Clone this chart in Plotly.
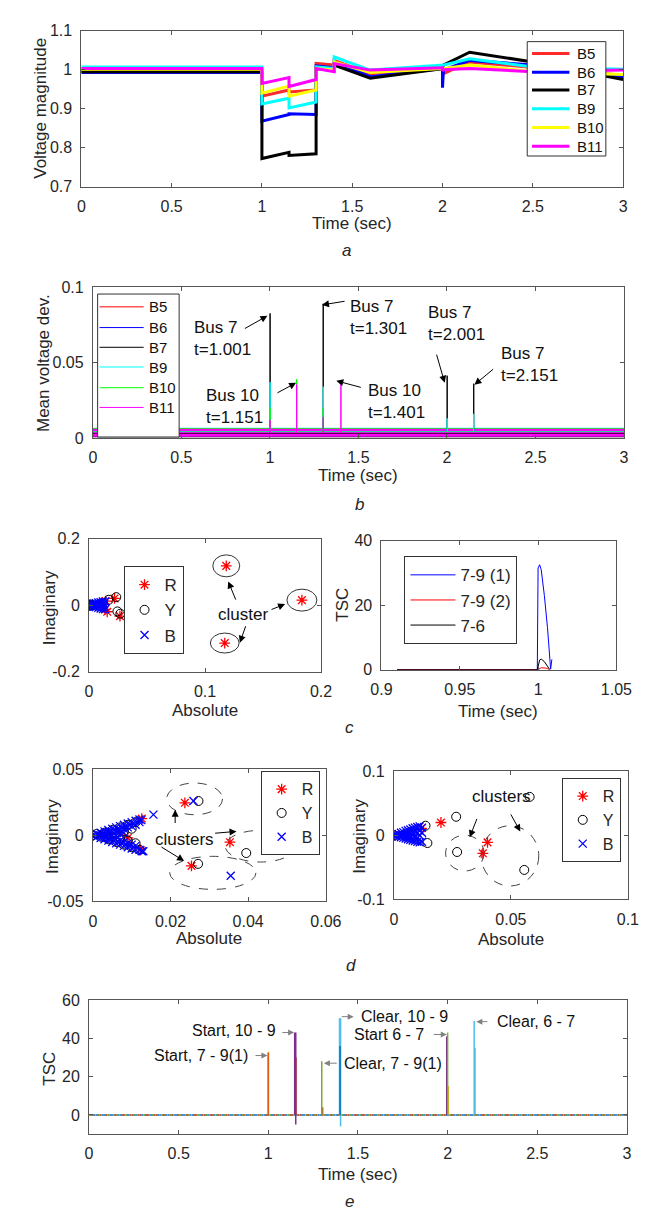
import plotly.graph_objects as go

W, H = 657, 1211
FONT = "Liberation Sans, Arial, Helvetica, sans-serif"

# ---------------- Panel a : voltage magnitude ----------------
a_time = [0, 1.0, 1.0, 1.15, 1.15, 1.3, 1.3, 1.4, 1.4, 1.6, 2.0, 2.0, 2.005, 2.15, 2.5, 3.0]
a_B5 = [1.000, 1.000, 0.932, 0.948, 0.943, 0.948, 1.016, 1.012, 1.024, 0.990, 1.003, 0.986, 0.990, 1.020, 1.006, 0.986]
a_B6 = [0.993, 0.993, 0.868, 0.885, 0.887, 0.885, 1.010, 1.005, 1.020, 0.982, 1.003, 0.954, 0.999, 1.024, 1.012, 0.982]
a_B7 = [0.995, 0.995, 0.772, 0.788, 0.780, 0.784, 1.003, 0.998, 1.012, 0.978, 1.003, 1.005, 1.012, 1.045, 1.020, 0.975]
a_B9 = [1.007, 1.007, 0.912, 0.927, 0.902, 0.917, 1.007, 1.003, 1.033, 0.999, 1.012, 1.010, 1.012, 1.028, 1.007, 1.001]
a_B10 = [1.001, 1.001, 0.940, 0.958, 0.932, 0.948, 1.003, 0.999, 1.020, 0.993, 1.003, 1.000, 1.003, 1.012, 0.995, 0.988]
a_B11 = [1.003, 1.003, 0.965, 0.980, 0.957, 0.975, 1.003, 0.995, 1.016, 0.999, 1.005, 0.997, 1.000, 1.003, 0.995, 0.999]
a_names = ["B5", "B6", "B7", "B9", "B10", "B11"]

# ---------------- Panel b : mean voltage deviation ----------------
b_names = ["B5", "B6", "B7", "B9", "B10", "B11"]
b_base = [0.0034, 0.0037, 0.0031, 0.0041, 0.0039, 0.0035]
b_B5_t, b_B5_v = [], []
b_B6_t, b_B6_v = [], []
b_B7_t, b_B7_v = [1.001, 1.301, 2.001, 2.151], [0.0826, 0.089, 0.0413, 0.036]
b_B9_t, b_B9_v = [1.001, 1.301, 2.001, 2.151], [0.037, 0.034, 0.013, 0.016]
b_B10_t, b_B10_v = [1.001, 1.151, 1.301], [0.020, 0.039, 0.020]
b_B11_t, b_B11_v = [1.001, 1.151, 1.301, 1.401], [0.012, 0.0354, 0.014, 0.036]
b_notes = ["Bus 7<br>t=1.001", "Bus 10<br>t=1.151", "Bus 7<br>t=1.301",
           "Bus 10<br>t=1.401", "Bus 7<br>t=2.001", "Bus 7<br>t=2.151"]

# ---------------- Panel c (left) : scatter ----------------
cl_R = [(0.1183, 0.118), (0.117, -0.114), (0.1835, 0.015), (0.0143, 0.012), (0.0157, -0.020),
        (0.0267, -0.033), (0.0138, -0.013), (0.022, 0.020), (0.0105, 0.004)]
cl_Y = [(0.000, 0.000), (0.001, 0.002), (0.001, -0.002), (0.002, 0.000), (0.017, 0.016),
        (0.0235, 0.024), (0.0245, -0.019), (0.027, -0.026)]
cl_B = [(0.000, 0.000), (0.002, 0.002), (0.002, -0.002), (0.003, 0.000), (0.004, 0.004), (0.004, -0.004),
        (0.005, 0.002), (0.005, -0.002), (0.006, 0.006), (0.006, -0.006), (0.007, 0.000), (0.007, 0.003),
        (0.007, -0.003), (0.008, 0.008), (0.008, -0.008), (0.009, 0.004), (0.009, -0.004), (0.010, 0.009),
        (0.010, -0.010), (0.010, 0.000), (0.011, 0.006), (0.011, -0.006), (0.012, 0.011), (0.012, -0.012),
        (0.013, 0.003), (0.013, -0.003), (0.014, 0.010), (0.014, -0.012)]
cl_ell = [(0.1183, 0.118, 0.0116, 0.033), (0.117, -0.114, 0.0124, 0.030), (0.1835, 0.015, 0.0129, 0.033)]

# ---------------- Panel c (right) : TSC ----------------
cr_names = ["7-9 (1)", "7-9 (2)", "7-6"]
cr_t1 = [0.91, 0.9995, 1.0, 1.001, 1.002, 1.004, 1.006, 1.0075, 1.008, 1.0088]
cr_v1 = [0, 0, 31.5, 32.5, 31, 23, 13, 3.5, 0.2, 3.2]
cr_t2 = [0.91, 1.0, 1.002, 1.005, 1.0075]
cr_v2 = [0, 0, 0.6, 0.5, 0]
cr_t3 = [0.91, 0.9995, 1.001, 1.002, 1.004, 1.006, 1.0075]
cr_v3 = [0, 0, 3.0, 3.3, 2.5, 1.2, 0]

# ---------------- Panel d (left) ----------------
dl_R = [(0.0237, 0.0246), (0.0126, 0.0127), (0.0353, -0.0052), (0.0254, -0.0231), (0.0123, -0.011),
        (0.009, -0.002), (0.003, 0.0)]
dl_Y = [(0.000, 0.000), (0.001, 0.001), (0.002, -0.001), (0.003, 0.002), (0.004, -0.003), (0.005, 0.004),
        (0.006, -0.005), (0.007, 0.006), (0.008, -0.007), (0.009, 0.008), (0.010, -0.009), (0.011, 0.010),
        (0.012, -0.011), (0.006, 0.001), (0.008, 0.003), (0.010, 0.005), (0.009, -0.004), (0.004, 0.001),
        (0.007, -0.002), (0.011, -0.006), (0.003, -0.001), (0.005, -0.001),
        (0.0272, 0.026), (0.0395, -0.0134), (0.0271, -0.0216)]
dl_B = [(0.000, 0.000), (0.001, 0.001), (0.001, -0.001), (0.002, 0.002), (0.002, -0.002), (0.002, 0.000),
        (0.003, 0.003), (0.003, -0.003), (0.003, 0.001), (0.003, -0.001), (0.004, 0.004), (0.004, -0.004),
        (0.004, 0.002), (0.004, -0.002), (0.004, 0.000), (0.005, 0.005), (0.005, -0.005), (0.005, 0.0025),
        (0.005, -0.0025), (0.005, 0.000), (0.006, 0.006), (0.006, -0.006), (0.006, 0.003), (0.006, -0.003),
        (0.006, 0.000), (0.007, 0.007), (0.007, -0.007), (0.007, 0.004), (0.007, -0.004), (0.007, 0.001),
        (0.008, 0.008), (0.008, -0.008), (0.008, 0.005), (0.008, -0.005), (0.008, 0.002), (0.009, 0.009),
        (0.009, -0.009), (0.009, 0.006), (0.009, -0.006), (0.010, 0.010), (0.010, -0.010), (0.010, 0.007),
        (0.010, -0.007), (0.011, 0.011), (0.011, -0.011), (0.011, 0.008), (0.011, -0.008), (0.012, 0.012),
        (0.012, -0.011), (0.0125, 0.0115), (0.013, -0.012),
        (0.0259, 0.026), (0.0156, 0.0157), (0.0447, -0.0089), (0.0355, -0.0306), (0.0126, -0.012), (0.012, 0.010)]
dl_ell = [(0.0262, 0.0276, 0.0072, 0.012), (0.0432, -0.0082, 0.0091, 0.012), (0.0309, -0.0284, 0.0111, 0.0125)]

# ---------------- Panel d (right) ----------------
dr_R = [(0.0201, 0.020), (0.040, -0.011), (0.038, -0.028), (0.0118, 0.011), (0.0005, 0.0)]
dr_Y = [(0.0266, 0.029), (0.058, 0.060), (0.027, -0.026), (0.0557, -0.054), (0.0135, 0.015),
        (0.0143, -0.012), (0.000, 0.000)]
dr_B = [(0.000, 0.000), (0.001, 0.001), (0.001, -0.001), (0.002, 0.002), (0.002, -0.002), (0.003, 0.004),
        (0.003, -0.003), (0.003, 0.000), (0.004, 0.005), (0.004, -0.004), (0.004, 0.001), (0.005, 0.007),
        (0.005, -0.005), (0.005, 0.002), (0.005, -0.001), (0.006, 0.008), (0.006, -0.006), (0.006, 0.003),
        (0.006, -0.002), (0.007, 0.009), (0.007, -0.007), (0.007, 0.004), (0.007, -0.002), (0.008, 0.011),
        (0.008, -0.008), (0.008, 0.005), (0.008, 0.000), (0.009, 0.012), (0.009, -0.009), (0.009, 0.006),
        (0.009, -0.003), (0.010, 0.013), (0.010, -0.010), (0.010, 0.004), (0.010, -0.004), (0.011, 0.014),
        (0.011, -0.011), (0.011, 0.007), (0.011, 0.000), (0.012, 0.012), (0.012, -0.010), (0.012, 0.004)]
dr_ell = [(0.0303, -0.0277, 0.0082, 0.028), (0.0496, -0.032, 0.0123, 0.047)]

# ---------------- Panel e : TSC ----------------
e_yellow_t, e_yellow_lo, e_yellow_hi = [1.0015, 2.004], [0, 0], [33, 15]
e_orange_t, e_orange_lo, e_orange_hi = [0.999, 1.155, 1.303], [0, 0, 0], [32.5, 30, 4]
e_purple_t, e_purple_lo, e_purple_hi = [1.147, 1.153, 1.995], [0, -5, 0], [43, 43, 41]
e_green_t, e_green_lo, e_green_hi = [1.298, 2.0, 2.152], [0, 0, 0], [28, 43, 35]
e_lblue_t, e_lblue_lo, e_lblue_hi = [1.397, 1.403, 2.148], [0, -6, 0], [50.5, 50.5, 49]
e_blue_t, e_blue_lo, e_blue_hi = [1.400], [0], [36]
e_base_t, e_base_v = [0, 3], [0, 0]
e_notes = ["Start, 7 - 9(1)", "Start, 10 - 9", "Clear, 7 - 9(1)", "Clear, 10 - 9", "Start 6 - 7", "Clear, 6 - 7"]

# tick labels
t_time = [0, 0.5, 1, 1.5, 2, 2.5, 3]
t_time_txt = ["0", "0.5", "1", "1.5", "2", "2.5", "3"]

# ======================================================================
def X(p):
    return p / W


def Y(p):
    return 1 - p / H


fig = go.Figure()

AX = dict(showline=True, mirror="ticks", linecolor="#555555", linewidth=1, ticks="inside",
          ticklen=4, tickcolor="#555555", showgrid=False, zeroline=False,
          tickfont=dict(size=16, color="#262626", family=FONT))

panels = {
    1: dict(x=(65, 630), y=(15, 173), xr=[0, 3], yr=[0.7, 1.1],
            xt=t_time, xtt=t_time_txt, yt=[0.7, 0.8, 0.9, 1.0, 1.1], ytt=["0.7", "0.8", "0.9", "1", "1.1"]),
    2: dict(x=(77, 631), y=(275, 428), xr=[0, 3], yr=[0, 0.1],
            xt=t_time, xtt=t_time_txt, yt=[0, 0.05, 0.1], ytt=["0", "0.05", "0.1"]),
    3: dict(x=(73, 315), y=(530, 665), xr=[0, 0.2], yr=[-0.2, 0.2],
            xt=[0, 0.1, 0.2], xtt=["0", "0.1", "0.2"], yt=[-0.2, 0, 0.2], ytt=["-0.2", "0", "0.2"]),
    4: dict(x=(378, 623), y=(532, 663), xr=[0.9, 1.05], yr=[0, 40],
            xt=[0.9, 0.95, 1.0, 1.05], xtt=["0.9", "0.95", "1", "1.05"], yt=[0, 20, 40], ytt=["0", "20", "40"]),
    5: dict(x=(77, 320), y=(764, 898), xr=[0, 0.06], yr=[-0.05, 0.05],
            xt=[0, 0.02, 0.04, 0.06], xtt=["0", "0.02", "0.04", "0.06"], yt=[-0.05, 0, 0.05],
            ytt=["-0.05", "0", "0.05"]),
    6: dict(x=(391, 635), y=(766, 896), xr=[0, 0.1], yr=[-0.1, 0.1],
            xt=[0, 0.05, 0.1], xtt=["0", "0.05", "0.1"], yt=[-0.1, 0, 0.1], ytt=["-0.1", "0", "0.1"]),
    7: dict(x=(73, 634), y=(998, 1134), xr=[0, 3], yr=[-10, 60],
            xt=t_time, xtt=t_time_txt, yt=[0, 20, 40, 60], ytt=["0", "20", "40", "60"]),
}

layout_axes = {}
for n, p in panels.items():
    s = "" if n == 1 else str(n)
    layout_axes["xaxis" + s] = dict(AX, domain=[X(p["x"][0]), X(p["x"][1])], range=p["xr"],
                                    anchor="y" + s, tickvals=p["xt"], ticktext=p["xtt"],
                                    ticklabelstandoff=5)
    layout_axes["yaxis" + s] = dict(AX, domain=[Y(p["y"][1]), Y(p["y"][0])], range=p["yr"],
                                    anchor="x" + s, tickvals=p["yt"], ticktext=p["ytt"],
                                    ticklabelstandoff=5)

# ---- panel a traces
a_colors = ["#ff2a2a", "#0000ff", "#000000", "#00ffff", "#ffff00", "#ff00ff"]
for name, vals, col in zip(a_names, [a_B5, a_B6, a_B7, a_B9, a_B10, a_B11], a_colors):
    fig.add_trace(go.Scatter(x=a_time, y=vals, mode="lines", name=name, showlegend=False,
                             line=dict(color=col, width=3), xaxis="x", yaxis="y"))

# ---- panel b traces
b_colors = ["#ff0000", "#0000ff", "#000000", "#00ffff", "#00ff00", "#ff00ff"]
for lvl, col in zip(b_base, b_colors):
    fig.add_trace(go.Scatter(x=[0, 3], y=[lvl, lvl], mode="lines", showlegend=False,
                             line=dict(color=col, width=8), xaxis="x2", yaxis="y2"))
b_spk = [(b_B5_t, b_B5_v), (b_B6_t, b_B6_v), (b_B7_t, b_B7_v),
         (b_B9_t, b_B9_v), (b_B10_t, b_B10_v), (b_B11_t, b_B11_v)]
for name, (ts, vs), lvl, col in zip(b_names, b_spk, b_base, b_colors):
    xs, ys = [0], [lvl]
    for t, v in zip(ts, vs):
        xs += [t, t, t]
        ys += [lvl, v, lvl]
    xs.append(3)
    ys.append(lvl)
    fig.add_trace(go.Scatter(x=xs, y=ys, mode="lines", name=name, showlegend=False,
                             line=dict(color=col, width=1), xaxis="x2", yaxis="y2"))

# ---- scatter helpers
MK = {
    "R": dict(symbol="asterisk-open", color="#ff0000", size=9, line=dict(color="#ff0000", width=1.3)),
    "Y": dict(symbol="circle-open", color="#000000", size=9, line=dict(color="#000000", width=1)),
    "B": dict(symbol="x-thin-open", color="#0000ff", size=8, line=dict(color="#0000ff", width=1.3)),
}


def add_scatter(pts, key, xa, ya, leg):
    fig.add_trace(go.Scatter(x=[q[0] for q in pts], y=[q[1] for q in pts], mode="markers",
                             name=key, legend=leg, legendgroup=leg + key, marker=MK[key],
                             xaxis=xa, yaxis=ya))


add_scatter(cl_R, "R", "x3", "y3", "legend3")
add_scatter(cl_Y, "Y", "x3", "y3", "legend3")
add_scatter(cl_B, "B", "x3", "y3", "legend3")

# ---- panel c right
for name, ts, vs, col in zip(cr_names, [cr_t1, cr_t2, cr_t3], [cr_v1, cr_v2, cr_v3],
                             ["#0000ff", "#ff0000", "#000000"]):
    fig.add_trace(go.Scatter(x=ts, y=vs, mode="lines", name=name, legend="legend4",
                             legendgroup="g4" + name, line=dict(color=col, width=1),
                             xaxis="x4", yaxis="y4"))

# ---- panel d
add_scatter(dl_R, "R", "x5", "y5", "legend5")
add_scatter(dl_Y, "Y", "x5", "y5", "legend5")
add_scatter(dl_B, "B", "x5", "y5", "legend5")
add_scatter(dr_R, "R", "x6", "y6", "legend6")
add_scatter(dr_Y, "Y", "x6", "y6", "legend6")
add_scatter(dr_B, "B", "x6", "y6", "legend6")

# ---- panel e
for col, dash, wid in [("#0072BD", "solid", 1.5), ("#D95319", "4px,4px", 1.5),
                       ("#77AC30", "2px,7px", 1.5), ("#EDB120", "1px,5px", 1.5),
                       ("#4DBEEE", "1px,9px", 1.5)]:
    fig.add_trace(go.Scatter(x=e_base_t, y=e_base_v, mode="lines", showlegend=False,
                             line=dict(color=col, width=wid, dash=dash), xaxis="x7", yaxis="y7"))
for ts, lo, hi, col in [(e_yellow_t, e_yellow_lo, e_yellow_hi, "#EDB120"),
                        (e_orange_t, e_orange_lo, e_orange_hi, "#D95319"),
                        (e_purple_t, e_purple_lo, e_purple_hi, "#7E2F8E"),
                        (e_green_t, e_green_lo, e_green_hi, "#77AC30"),
                        (e_lblue_t, e_lblue_lo, e_lblue_hi, "#4DBEEE"),
                        (e_blue_t, e_blue_lo, e_blue_hi, "#0072BD")]:
    xs, ys = [], []
    for t, a, b in zip(ts, lo, hi):
        xs += [t, t, None]
        ys += [a, b, None]
    fig.add_trace(go.Scatter(x=xs, y=ys, mode="lines", showlegend=False,
                             line=dict(color=col, width=1.5), xaxis="x7", yaxis="y7"))

# ---------------- annotations ----------------
ann = []
shapes = []


def txt(x, y, s, size=17, xref="paper", yref="paper", xanchor="center", yanchor="middle",
        angle=0, italic=False, color="#262626", align="center"):
    ann.append(dict(x=x, y=y, xref=xref, yref=yref, text=("<i>%s</i>" % s) if italic else s,
                    showarrow=False, xanchor=xanchor, yanchor=yanchor, textangle=angle,
                    align=align, font=dict(size=size, color=color, family=FONT)))


def arrow(x0, y0, x1, y1, xref, yref, color="#000000", head=2, size=1.4, width=1):
    ann.append(dict(x=x1, y=y1, ax=x0, ay=y0, xref=xref, yref=yref, axref=xref, ayref=yref,
                    text="", showarrow=True, arrowhead=head, arrowsize=size, arrowwidth=width,
                    arrowcolor=color, standoff=0, startstandoff=0))


def manual_legend(box, rows, line_x, text_x, names, colors, width, size):
    shapes.append(dict(type="rect", xref="paper", yref="paper", x0=X(box[0]), x1=X(box[1]),
                       y0=Y(box[3]), y1=Y(box[2]), line=dict(color="#333333", width=1),
                       fillcolor="white", layer="above"))
    for r, nm, col in zip(rows, names, colors):
        shapes.append(dict(type="line", xref="paper", yref="paper", x0=X(line_x[0]), x1=X(line_x[1]),
                           y0=Y(r), y1=Y(r), line=dict(color=col, width=width), layer="above"))
        txt(X(text_x), Y(r), nm, size=size, xanchor="left", color="#111111")


# panel a / b legends (MATLAB-style boxes)
manual_legend((530, 612, 26, 142), [38, 57, 75, 94, 113, 132], (535, 574), 580,
              a_names, a_colors, 3, 15)
manual_legend((82, 167, 282, 427), [295, 316, 336, 356, 377, 397], (84, 130), 134,
              b_names, b_colors, 1, 15)

# axis titles / panel letters
txt(X(23), Y(94), "Voltage magnitude", angle=-90)
txt(X(347), Y(210), "Time (sec)")
txt(X(342), Y(238), "a", italic=True)
txt(X(25), Y(352), "Mean voltage dev.", angle=-90)
txt(X(354), Y(466), "Time (sec)")
txt(X(355), Y(495), "b", italic=True)
txt(X(32), Y(600), "Imaginary", angle=-90)
txt(X(194), Y(704), "Absolute")
txt(X(338), Y(597), "TSC", angle=-90)
txt(X(500), Y(705), "Time (sec)")
txt(X(345), Y(722), "c", italic=True)
txt(X(35), Y(832), "Imaginary", angle=-90)
txt(X(198), Y(936), "Absolute")
txt(X(355), Y(832), "Imaginary", angle=-90)
txt(X(513), Y(937), "Absolute")
txt(X(346), Y(963), "d", italic=True)
txt(X(31), Y(1068), "TSC", angle=-90)
txt(X(354), Y(1175), "Time (sec)")
txt(X(345), Y(1202), "e", italic=True)

# panel b notes
b_note_pos = [(0.558, 0.066), (0.628, 0.0209), (1.440, 0.0797), (1.543, 0.0242), (1.884, 0.0758), (2.291, 0.0484)]
b_arrows = [(0.85, 0.072, 0.986, 0.081), (1.034, 0.0294, 1.148, 0.0366), (1.43, 0.0908, 1.294, 0.0882),
            (1.522, 0.0333, 1.375, 0.0379), (1.939, 0.0562, 1.987, 0.0366), (2.269, 0.0464, 2.155, 0.0353)]
for s, (x, y) in zip(b_notes, b_note_pos):
    txt(x, y, s, size=17, xref="x2", yref="y2", xanchor="left", align="left", color="#111111")
for a in b_arrows:
    arrow(*a, "x2", "y2")

# panel c left
txt(0.133, -0.0296, "cluster", size=17, xref="x3", yref="y3", color="#111111")
for a in [(0.127, 0.012, 0.120, 0.071), (0.1355, -0.059, 0.130, -0.113), (0.156, -0.015, 0.169, 0.003)]:
    arrow(*a, "x3", "y3")

# panel d
txt(0.0237, -0.003, "clusters", size=17, xref="x5", yref="y5", color="#111111")
for a in [(0.0212, 0.0082, 0.0212, 0.0194), (0.0311, 0.0015, 0.037, 0.003), (0.0173, -0.0082, 0.0235, -0.0194)]:
    arrow(*a, "x5", "y5")
txt(0.0459, 0.060, "clusters", size=17, xref="x6", yref="y6", color="#111111")
for a in [(0.0357, 0.028, 0.0324, -0.003), (0.0496, 0.035, 0.054, 0.006)]:
    arrow(*a, "x6", "y6")

# panel e notes
e_note_pos = [(0.898, 31.1, "right"), (1.053, 44, "right"), (1.412, 27, "left"),
              (1.508, 51.3, "left"), (1.882, 42, "right"), (2.262, 48.7, "left")]
e_arrows = [(0.920, 31, 0.995, 31), (1.070, 43, 1.144, 43), (1.390, 27, 1.310, 27),
            (1.401, 51.3, 1.476, 51.3), (1.914, 42, 1.995, 42), (2.23, 48.7, 2.16, 48.7)]
for s, (x, y, anc) in zip(e_notes, e_note_pos):
    txt(x, y, s, size=16, xref="x7", yref="y7", xanchor=anc, color="#111111")
for a in e_arrows:
    arrow(*a, "x7", "y7", color="#808080", head=2, size=1.2, width=1)

# ellipses
for cx, cy, rx, ry in cl_ell:
    shapes.append(dict(type="circle", xref="x3", yref="y3", x0=cx - rx, x1=cx + rx, y0=cy - ry, y1=cy + ry,
                       line=dict(color="#333333", width=1)))
for cx, cy, rx, ry in dl_ell:
    shapes.append(dict(type="circle", xref="x5", yref="y5", x0=cx - rx, x1=cx + rx, y0=cy - ry, y1=cy + ry,
                       line=dict(color="#444444", width=1, dash="dash")))
for cx, cy, rx, ry in dr_ell:
    shapes.append(dict(type="circle", xref="x6", yref="y6", x0=cx - rx, x1=cx + rx, y0=cy - ry, y1=cy + ry,
                       line=dict(color="#444444", width=1, dash="dash")))

LEG = dict(xanchor="left", yanchor="top", bgcolor="white", bordercolor="#333333", borderwidth=1,
           font=dict(size=15, color="#111111", family=FONT), traceorder="normal")

fig.update_layout(
    width=W, height=H, margin=dict(l=0, r=0, t=0, b=0),
    paper_bgcolor="white", plot_bgcolor="white",
    font=dict(family=FONT, color="#262626"),
    annotations=ann, shapes=shapes,
    legend3=dict(LEG, x=X(109), y=Y(558), tracegroupgap=6, font=dict(size=17, family=FONT)),
    legend4=dict(LEG, x=X(402), y=Y(548), tracegroupgap=8, itemwidth=45, font=dict(size=17, family=FONT)),
    legend5=dict(LEG, x=X(252), y=Y(766), tracegroupgap=0, font=dict(size=16, family=FONT)),
    legend6=dict(LEG, x=X(566), y=Y(773), tracegroupgap=0, font=dict(size=16, family=FONT)),
    **layout_axes,
)

fig.write_html("out.html")
